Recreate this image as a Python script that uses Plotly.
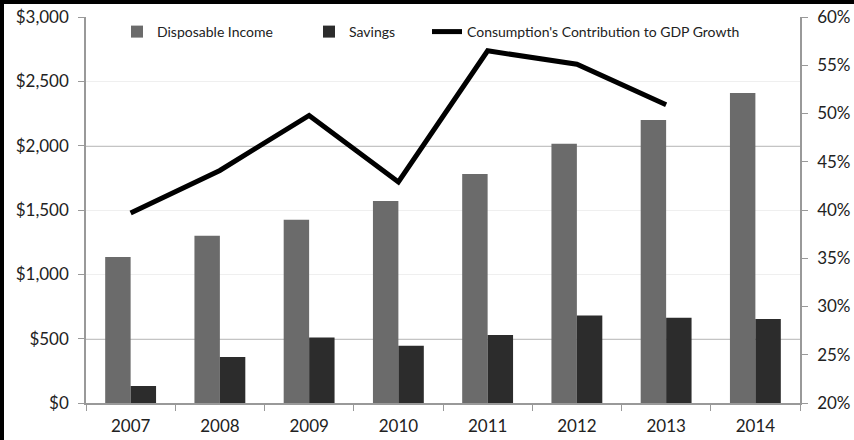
import plotly.graph_objects as go

years = ["2007", "2008", "2009", "2010", "2011", "2012", "2013", "2014"]
disposable_income = [1135, 1300, 1425, 1570, 1780, 2015, 2200, 2410]
savings = [132, 357, 510, 445, 528, 680, 663, 653]
line_years = ["2007", "2008", "2009", "2010", "2011", "2012", "2013"]
consumption_share = [0.397, 0.441, 0.498, 0.429, 0.565, 0.551, 0.509]

W, H = 854, 440
ml, mr, mt, mb = 86, 54, 17, 37
pw, ph = W - ml - mr, H - mt - mb
FONT = "Lato"

fig = go.Figure()
fig.add_trace(go.Bar(x=years, y=disposable_income, name="Disposable Income",
                     marker=dict(color="#6b6b6b", line=dict(width=0)), legend="legend"))
fig.add_trace(go.Bar(x=years, y=savings, name="Savings",
                     marker=dict(color="#2c2c2c", line=dict(width=0)), legend="legend2"))
fig.add_trace(go.Scatter(x=line_years, y=consumption_share, yaxis="y2",
                         name="Consumption's Contribution to GDP Growth",
                         mode="lines", line=dict(color="black", width=5), legend="legend3"))

# darker gridlines like the reference scan
for v in (2000, 500):
    fig.add_shape(type="line", xref="paper", yref="y", x0=0, x1=1, y0=v, y1=v,
                  line=dict(color="#8a8a8a", width=1.5), layer="below")

# image border (left & top) drawn as filled annotation boxes
fig.add_annotation(xref="paper", yref="paper", x=-ml / pw, y=-mb / ph,
                   xanchor="left", yanchor="bottom", text=" ", showarrow=False,
                   width=4, height=H, bgcolor="black", borderpad=0, borderwidth=0)
fig.add_annotation(xref="paper", yref="paper", x=-ml / pw, y=1 + mt / ph,
                   xanchor="left", yanchor="top", text=" ", showarrow=False,
                   width=W, height=4, bgcolor="black", borderpad=0, borderwidth=0)

legend_common = dict(orientation="h", yanchor="middle", xanchor="left",
                     y=1 - (32 - mt) / ph, font=dict(size=14, color="#222"),
                     bgcolor="rgba(0,0,0,0)", itemwidth=30)

fig.update_layout(
    width=W, height=H,
    margin=dict(l=ml, r=mr, t=mt, b=mb, pad=0),
    paper_bgcolor="white", plot_bgcolor="white",
    barmode="group", bargap=0.43, bargroupgap=0,
    font=dict(family=FONT, size=17, color="#222"),
    showlegend=True,
    legend=dict(x=(117 - ml) / pw, **legend_common),
    legend2=dict(x=(309 - ml) / pw, **legend_common),
    legend3=dict(x=(427 - ml) / pw, **legend_common),
    xaxis=dict(showline=True, linecolor="#999", linewidth=1.5, automargin=False,
               ticks="outside", tickson="boundaries", ticklen=6, tickcolor="#999",
               showgrid=False, tickfont=dict(size=17), ticklabelstandoff=7),
    yaxis=dict(range=[0, 3000], dtick=500, tickprefix="$", tickformat=",",
               showline=True, linecolor="#999", linewidth=1.5, automargin=False,
               ticks="outside", ticklen=6, tickcolor="#999",
               showgrid=True, gridcolor="#efefef", gridwidth=1, zeroline=False,
               tickfont=dict(size=17), ticklabelstandoff=6),
    yaxis2=dict(range=[0.2, 0.6], dtick=0.05, tickformat=".0%", overlaying="y",
                side="right", showline=True, linecolor="#999", linewidth=1.5,
                automargin=False,
                ticks="outside", ticklen=6, tickcolor="#999", showgrid=False,
                zeroline=False, tickfont=dict(size=17), ticklabelstandoff=6),
)

fig.write_html("out.html")
